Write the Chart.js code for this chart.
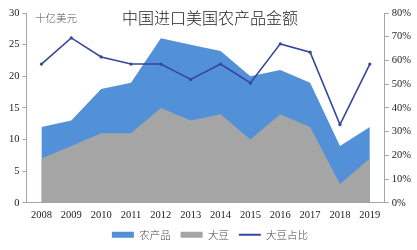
<!DOCTYPE html>
<html>
<head>
<meta charset="utf-8">
<script src="https://cdn.jsdelivr.net/npm/chart.js@4"></script>
<style>
	body { margin: 0; background: #fff; }
	#wrap { position: relative; width: 417px; height: 250px; }
</style>
</head>
<body>
<div id="wrap"><canvas id="tradeChart"></canvas></div>
<script>
//china imports of US farm goods, 2008-2019

//data

const years = ['2008', '2009', '2010', '2011', '2012', '2013', '2014', '2015', '2016', '2017', '2018', '2019'];
const farmTotal = [12, 13, 18, 19, 26, 25, 24, 20, 21, 19, 9, 12];      // 农产品, 十亿美元
const soybeans = [7, 9, 11, 11, 15, 13, 14, 10, 14, 12, 3, 7];          // 大豆, 十亿美元
const soyShare = [0.585, 0.695, 0.615, 0.585, 0.585, 0.52, 0.585, 0.505, 0.67, 0.635, 0.33, 0.585]; // 大豆占比

const leftTicks = [0, 5, 10, 15, 20, 25, 30];
const rightTicks = [0, 0.1, 0.2, 0.3, 0.4, 0.5, 0.6, 0.7, 0.8];

const serif = '"Liberation Serif", "DejaVu Serif", serif';
const cjk = '"Noto Sans CJK SC", sans-serif';
const axisGray = '#a6a6a6';

//title and unit text drawn over the plot

const titlePlugin = {
	id: 'titleText',
	afterDraw(chart) {
		const c = chart.ctx;
		c.save();
		c.textBaseline = 'middle';
		c.fillStyle = '#222';
		c.font = '300 16px ' + cjk;
		c.textAlign = 'center';
		c.fillText('中国进口美国农产品金额', 210, 18);
		c.fillStyle = '#555';
		c.font = '300 10.5px ' + cjk;
		c.textAlign = 'left';
		c.fillText('十亿美元', 35, 18);
		c.restore();
	}
};

const config = {
	type: 'line',
	data: {
		labels: years,
		datasets: [{
			label: '农产品',
			data: farmTotal,
			yAxisID: 'y',
			borderWidth: 0,
			borderColor: '#5291d7',
			backgroundColor: '#5291d7',
			fill: 'origin',
			pointRadius: 0,
			tension: 0,
			order: 3
		}, {
			label: '大豆',
			data: soybeans,
			yAxisID: 'y',
			borderWidth: 0,
			borderColor: '#a5a5a5',
			backgroundColor: '#a5a5a5',
			fill: 'origin',
			pointRadius: 0,
			tension: 0,
			order: 2
		}, {
			label: '大豆占比',
			data: soyShare,
			yAxisID: 'y1',
			borderWidth: 1.6,
			borderColor: '#34479c',
			backgroundColor: '#34479c',
			fill: false,
			pointRadius: 1.6,
			pointBorderWidth: 0,
			tension: 0,
			order: 1
		}]
	},
	options: {
		responsive: true,
		maintainAspectRatio: false,
		animation: false,
		layout: {
			padding: { top: 13, left: 6, right: 3, bottom: 0 }
		},
		plugins: {
			tooltip: { enabled: false },
			legend: {
				display: true,
				position: 'bottom',
				labels: {
					font: { family: cjk, size: 10.5, weight: '300' },
					color: '#444',
					boxWidth: 22,
					boxHeight: 6,
					padding: 10,
					usePointStyle: true,
					pointStyleWidth: 22,
					generateLabels: function (chart) {
						const items = Chart.defaults.plugins.legend.labels.generateLabels(chart);
						items.forEach(function (it) {
							if (it.datasetIndex === 2) {
								it.pointStyle = 'line';
								it.lineWidth = 2;
								it.strokeStyle = '#34479c';
							} else {
								it.pointStyle = 'rect';
								it.lineWidth = 0;
							}
						});
						return items;
					},
					sort: function (a, b) {
						return a.datasetIndex - b.datasetIndex;
					}
				}
			}
		},
		scales: {
			x: {
				offset: true,
				grid: { display: false },
				border: { display: true, color: axisGray },
				ticks: {
					font: { family: serif, size: 10.5 },
					color: '#222',
					maxRotation: 0,
					autoSkip: false,
					padding: -2
				}
			},
			y: {
				position: 'left',
				min: 0,
				max: 30,
				afterBuildTicks: function (axis) {
					axis.ticks = leftTicks.map(v => ({ value: v }));
				},
				grid: { drawOnChartArea: false, color: axisGray, tickLength: 4 },
				border: { color: axisGray },
				ticks: {
					font: { family: serif, size: 10.5 },
					color: '#222',
					padding: 3
				}
			},
			y1: {
				position: 'right',
				min: 0,
				max: 0.8,
				afterBuildTicks: function (axis) {
					axis.ticks = rightTicks.map(v => ({ value: v }));
				},
				grid: { drawOnChartArea: false, color: axisGray, tickLength: 4 },
				border: { color: axisGray },
				ticks: {
					font: { family: serif, size: 10.5 },
					color: '#222',
					padding: 3,
					callback: function (value) {
						return Math.round(value * 100) + '%';
					}
				}
			}
		}
	},
	plugins: [titlePlugin]
};

const ctx = document.getElementById('tradeChart').getContext('2d');
const chart = new Chart(ctx, config);
</script>
</body>
</html>
